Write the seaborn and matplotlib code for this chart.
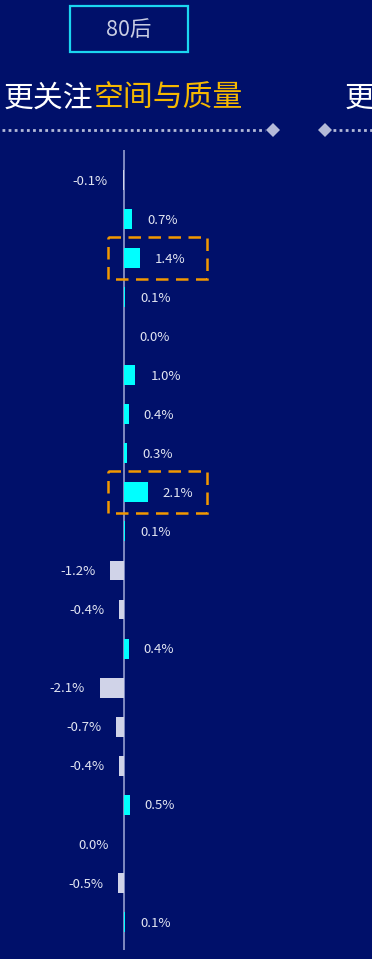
import matplotlib
matplotlib.use("Agg")
import matplotlib.pyplot as plt
from matplotlib.patches import Rectangle, Polygon
import seaborn as sns
import pandas as pd
import numpy as np

# ---- data ----
values = [-0.1, 0.7, 1.4, 0.1, 0.0, 1.0, 0.4, 0.3, 2.1, 0.1,
          -1.2, -0.4, 0.4, -2.1, -0.7, -0.4, 0.5, -0.04, -0.5, 0.1]
labels = ["-0.1%", "0.7%", "1.4%", "0.1%", "0.0%", "1.0%", "0.4%", "0.3%", "2.1%", "0.1%",
          "-1.2%", "-0.4%", "0.4%", "-2.1%", "-0.7%", "-0.4%", "0.5%", "0.0%", "-0.5%", "0.1%"]
highlight = [2, 8]
group_label = "80后"
title_white = "更关注"
title_gold = "空间与质量"
next_title = "更"

BG = "#00106A"
CYAN = "#00FFFF"
LAV = "#D0D3E8"
GOLD = "#F5B800"
ORANGE = "#F39800"

sns.set_theme(style="white")
plt.rcParams['font.family'] = ['Noto Sans CJK SC', 'DejaVu Sans']

W, H = 372, 959
fig = plt.figure(figsize=(W / 100, H / 100), dpi=100, facecolor=BG)

df = pd.DataFrame({
    "cat": [str(i) for i in range(len(values))],
    "val": values,
    "sign": ["pos" if v >= 0 else "neg" for v in values],
})

# axes spanning full width, y from 150px to 950px
ax = fig.add_axes([0, 1 - 950 / H, 1, 800 / H])
ax.set_facecolor(BG)
sns.barplot(data=df, x="val", y="cat", hue="sign", palette={"pos": CYAN, "neg": LAV},
            dodge=False, legend=False, width=0.51, orient="h", ax=ax, saturation=1,
            linewidth=0)
ppu = 11.4
ax.set_xlim(-124 / ppu, (W - 124) / ppu)
ax.set_ylim(-0.768 + 800 / 39.05, -0.768)
ax.axvline(0, color="#8A93C8", lw=1.3, zorder=0.5)
for s in ax.spines.values():
    s.set_visible(False)
ax.set_xticks([]); ax.set_yticks([])
ax.set_xlabel(""); ax.set_ylabel("")

for i, (v, lab) in enumerate(zip(values, labels)):
    if v >= 0:
        ax.text(v + 15 / ppu, i + 0.03, lab, ha="left", va="center", color="#E2E5F2", fontsize=9.5)
    else:
        ax.text(v - 15 / ppu, i + 0.03, lab, ha="right", va="center", color="#E2E5F2", fontsize=9.5)

for i in highlight:
    r = Rectangle((-16 / ppu, i - 0.54), 99 / ppu, 1.08, fill=False, ec=ORANGE, lw=1.8,
                  ls=(0, (5, 3)), zorder=5)
    ax.add_patch(r)

# header
fig.patches.append(Rectangle((70 / W, 1 - 52 / H), 118 / W, 46 / H, transform=fig.transFigure,
                             fill=False, ec="#1BD6F0", lw=1.6))
fig.text(129 / W, 1 - 30 / H, group_label, ha="center", va="center", color="#C9CDE3", fontsize=15.5)

t1 = fig.text(4 / W, 1 - 98 / H, title_white, ha="left", va="center", color="white", fontsize=21.5)
fig.canvas.draw()
bb = t1.get_window_extent()
fig.text(bb.x1 / W, 1 - 98 / H, title_gold, ha="left", va="center", color=GOLD, fontsize=21.5)
fig.text(345 / W, 1 - 98 / H, next_title, ha="left", va="center", color="white", fontsize=21.5)

# dotted separator with diamonds
ly = 1 - 130 / H
fig.lines.append(plt.Line2D([2 / W, 265 / W], [ly, ly], transform=fig.transFigure,
                            color="#B4BAD8", lw=2, ls=(0, (1, 1.2))))
fig.lines.append(plt.Line2D([333 / W, 1], [ly, ly], transform=fig.transFigure,
                            color="#B4BAD8", lw=2, ls=(0, (1, 1.2))))
for cx in (273, 325):
    d = 7
    fig.patches.append(Polygon([((cx - d) / W, ly), (cx / W, ly + d / H), ((cx + d) / W, ly),
                                (cx / W, ly - d / H)], closed=True, transform=fig.transFigure,
                               fc="#B4BAD8", ec="none"))

fig.savefig("out.png", dpi=100, facecolor=BG)
